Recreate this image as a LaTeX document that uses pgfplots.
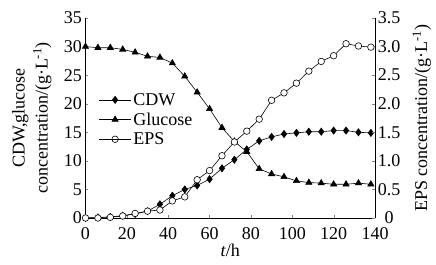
\documentclass[border=0pt]{standalone}
\usepackage{pgfplots}
\pgfplotsset{compat=1.18}
\usepackage{fontspec}
\setmainfont{Liberation Serif}
\begin{document}
\begin{tikzpicture}
\pgfplotsset{
  every axis/.append style={font=\fontsize{18bp}{21bp}\selectfont},
  /pgf/number format/assume math mode=true,
}
\begin{axis}[
  scale only axis, width=289.5bp, height=200bp,
  xmin=0, xmax=140, ymin=0, ymax=35,
  xtick={0,20,...,140}, ytick={0,5,...,35},
  axis y line*=left, axis x line*=bottom,
  tick align=inside, major tick length=3bp,
  xticklabel style={inner sep=1bp, yshift=-8bp},
  xlabel={\textit{t}/h},
  xlabel style={at={(axis description cs:0.5,-0.16)}, anchor=center},
  ylabel={CDW,glucose\\concentration/(g·L\textsuperscript{-1})},
  ylabel style={align=center, font=\fontsize{18bp}{23bp}\selectfont, at={(axis description cs:-0.185,0.5)}, anchor=center},
  legend style={draw=none, fill=none, at={(0.035,0.645)}, anchor=north west, row sep=2bp,
    font=\fontsize{18bp}{21bp}\selectfont},
  legend cell align=left,
  legend image code/.code={\draw[mark repeat=2,mark phase=2,#1] plot coordinates {(0bp,0bp) (16bp,0bp) (32bp,0bp)};},
  every axis plot/.append style={line width=0.6pt},
]
\addplot[black, mark=diamond*, mark size=3.6pt, mark options={fill=black}] coordinates {
(0,0) (6,0.1) (12,0.2) (18,0.4) (24,0.7) (30,1.2) (36,2.4) (42,3.9) (48,5.0) (54,5.7)
(60,6.8) (66,8.7) (72,10.2) (78,12.0) (84,13.5) (90,14.2) (96,14.7) (102,14.9) (108,15.1)
(114,15.1) (120,15.3) (126,15.3) (132,15.0) (138,14.9)};
\addlegendentry{CDW}
\addplot[black, mark=triangle*, mark size=3.6pt, mark options={fill=black}] coordinates {
(0,30.0) (6,29.8) (12,29.8) (18,29.5) (24,29.0) (30,28.3) (36,28.1) (42,27.1) (48,24.8) (54,22.0)
(60,19.1) (66,15.8) (72,13.4) (78,11.6) (84,8.6) (90,7.7) (96,7.2) (102,6.5) (108,6.2)
(114,6.1) (120,5.9) (126,5.9) (132,6.1) (138,5.9)};
\addlegendentry{Glucose}
\addlegendimage{black, line width=0.6pt, mark=o, mark size=3.3pt, mark options={fill=white}}
\addlegendentry{EPS}
\end{axis}
\begin{axis}[
  scale only axis, width=289.5bp, height=200bp,
  xmin=0, xmax=140, ymin=0, ymax=3.5,
  axis x line=none, axis y line*=right,
  tick align=inside, major tick length=3bp,
  ytick={0,0.5,...,3.5},
  yticklabels={0,0.5,1.0,1.5,2.0,2.5,3.0,3.5},
  yticklabel style={anchor=west, text width=26bp, align=center, inner sep=1bp},
  ylabel={EPS concentration/(g·L\textsuperscript{-1})},
  ylabel style={font=\fontsize{18bp}{22bp}\selectfont, at={(axis description cs:1.162,0.5)}, anchor=center, rotate=0},
]
\addplot[black, line width=0.6pt, mark=*, mark size=3.3pt, mark options={fill=white}] coordinates {
(0,0) (6,0.0) (12,0.012) (18,0.035) (24,0.08) (30,0.12) (36,0.14) (42,0.30) (48,0.37) (54,0.67)
(60,0.83) (66,1.09) (72,1.33) (78,1.52) (84,1.73) (90,2.06) (96,2.19) (102,2.36) (108,2.57)
(114,2.74) (120,2.84) (126,3.05) (132,3.01) (138,2.99)};
\end{axis}
\pgfresetboundingbox
\path (-85.5bp,-47bp) rectangle (350.5bp,218bp);
\end{tikzpicture}
\end{document}
